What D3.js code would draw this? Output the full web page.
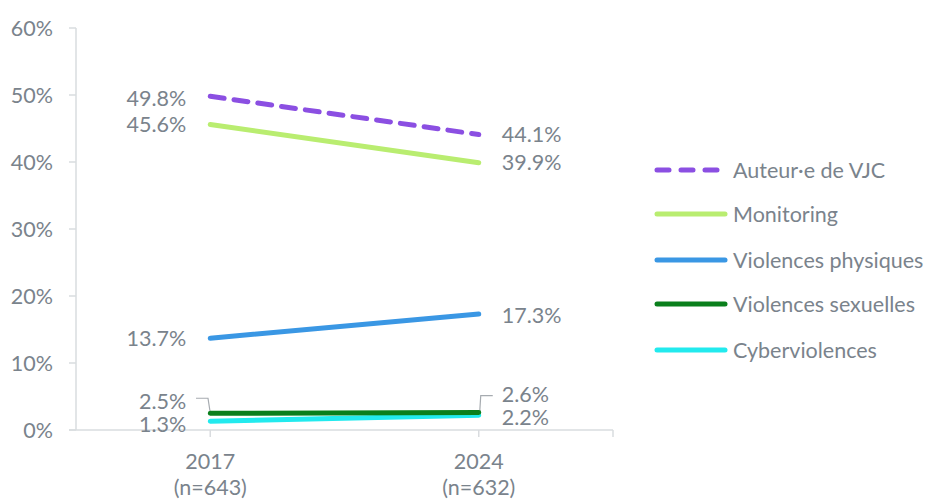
<!DOCTYPE html>
<html lang="fr">
<head>
  <meta charset="UTF-8">
  <title>VJC 2017-2024</title>
  <script src="https://d3js.org/d3.v7.min.js"></script>
  <style>
    body { margin: 0; padding: 0; background: #fff; overflow: hidden; }
    text { font-family: Lato, "Open Sans", sans-serif; fill: #7a838c; }
  </style>
</head>
<body>
  <svg id="chart" width="929" height="499"></svg>
  <script>
    // Data
    const years = ["2017", "2024"];
    const sampleSizes = ["(n=643)", "(n=632)"];
    const seriesNames = ["Auteur·e de VJC", "Monitoring", "Violences physiques", "Violences sexuelles", "Cyberviolences"];
    const seriesColors = ["#8b4fe2", "#b9ed70", "#3a97e4", "#0a7f1c", "#22eaee"];
    const auteur = [49.8, 44.1];
    const monitoring = [45.6, 39.9];
    const physiques = [13.7, 17.3];
    const sexuelles = [2.5, 2.6];
    const cyber = [1.3, 2.2];
    const yTicks = [0, 10, 20, 30, 40, 50, 60];

    const allValues = [auteur, monitoring, physiques, sexuelles, cyber];
    // label offsets (px) so overlapping values stay readable
    const labelShift = [[2, 0], [0, 0], [0, 1], [-12, -18], [3, 2]];

    const fs = 21.5;
    const svg = d3.select("#chart");
    const mLeft = 76, mRight = 613, mTop = 28, mBottom = 430;

    const x = d3.scalePoint().domain(years).range([mLeft, mRight]).padding(0.5);
    const y = d3.scaleLinear().domain([0, 60]).range([mBottom, mTop]);

    const grey = "#d9dcdf";

    // y axis
    svg.append("line").attr("x1", mLeft).attr("x2", mLeft).attr("y1", mTop).attr("y2", mBottom)
      .attr("stroke", grey).attr("stroke-width", 1.5);
    svg.selectAll(".ytick").data(yTicks).join("line")
      .attr("x1", mLeft - 7).attr("x2", mLeft)
      .attr("y1", d => y(d)).attr("y2", d => y(d))
      .attr("stroke", grey).attr("stroke-width", 1.5);
    svg.selectAll(".ylab").data(yTicks).join("text")
      .attr("x", 53).attr("y", d => y(d) + 7.5)
      .attr("text-anchor", "end").attr("font-size", fs)
      .text(d => d + "%");

    // x axis
    svg.append("line").attr("x1", mLeft - 7).attr("x2", mRight).attr("y1", mBottom).attr("y2", mBottom)
      .attr("stroke", grey).attr("stroke-width", 1.5);
    const xTickPos = years.map(d => x(d)).concat([mRight]);
    svg.selectAll(".xtick").data(xTickPos).join("line")
      .attr("x1", d => d).attr("x2", d => d)
      .attr("y1", mBottom).attr("y2", mBottom + 7)
      .attr("stroke", grey).attr("stroke-width", 1.5);
    svg.selectAll(".xlab").data(years).join("text")
      .attr("x", d => x(d)).attr("y", 469)
      .attr("text-anchor", "middle").attr("font-size", fs)
      .text(d => d);
    svg.selectAll(".xlab2").data(sampleSizes).join("text")
      .attr("x", (d, i) => x(years[i])).attr("y", 495)
      .attr("text-anchor", "middle").attr("font-size", fs)
      .text(d => d);

    // leader lines for the low labels
    const leader = d3.line();
    svg.append("path")
      .attr("d", leader([[196, y(sexuelles[0]) - 15], [208, y(sexuelles[0]) - 15], [210, y(sexuelles[0]) - 2]]))
      .attr("fill", "none").attr("stroke", "#a6abb0").attr("stroke-width", 1.2);
    svg.append("path")
      .attr("d", leader([[x(years[1]) + 1, y(sexuelles[1]) - 1], [x(years[1]) + 2, y(sexuelles[1]) - 17], [x(years[1]) + 14, y(sexuelles[1]) - 17]]))
      .attr("fill", "none").attr("stroke", "#a6abb0").attr("stroke-width", 1.2);

    // series lines, drawn bottom-up so the top ones sit above
    const line = d3.line().x((d, i) => x(years[i])).y(d => y(d));
    const order = [4, 3, 2, 1, 0];
    order.forEach(k => {
      svg.append("path")
        .datum(allValues[k])
        .attr("d", line)
        .attr("fill", "none")
        .attr("stroke", seriesColors[k])
        .attr("stroke-width", 5)
        .attr("stroke-linecap", "round")
        .attr("stroke-dasharray", k === 0 ? "14,10" : null);
    });

    // value labels
    allValues.forEach((vals, k) => {
      vals.forEach((v, i) => {
        const first = i === 0;
        svg.append("text")
          .attr("x", first ? x(years[0]) - 24 : x(years[1]) + 23)
          .attr("y", y(v) + 7.5 + labelShift[k][i])
          .attr("text-anchor", first ? "end" : "start")
          .attr("font-size", fs)
          .text(v.toFixed(1) + "%");
      });
    });

    // legend
    const legY = [170, 214, 260, 304, 350];
    const leg = svg.selectAll(".leg").data(seriesNames).join("g")
      .attr("transform", (d, i) => `translate(657,${legY[i]})`);
    leg.append("line")
      .attr("x1", 0).attr("x2", 68)
      .attr("stroke", (d, i) => seriesColors[i])
      .attr("stroke-width", 5)
      .attr("stroke-linecap", "round")
      .attr("stroke-dasharray", (d, i) => i === 0 ? "12,12" : null);
    leg.append("text")
      .attr("x", 76).attr("y", 7.5)
      .attr("font-size", fs)
      .text(d => d);
  </script>
</body>
</html>
